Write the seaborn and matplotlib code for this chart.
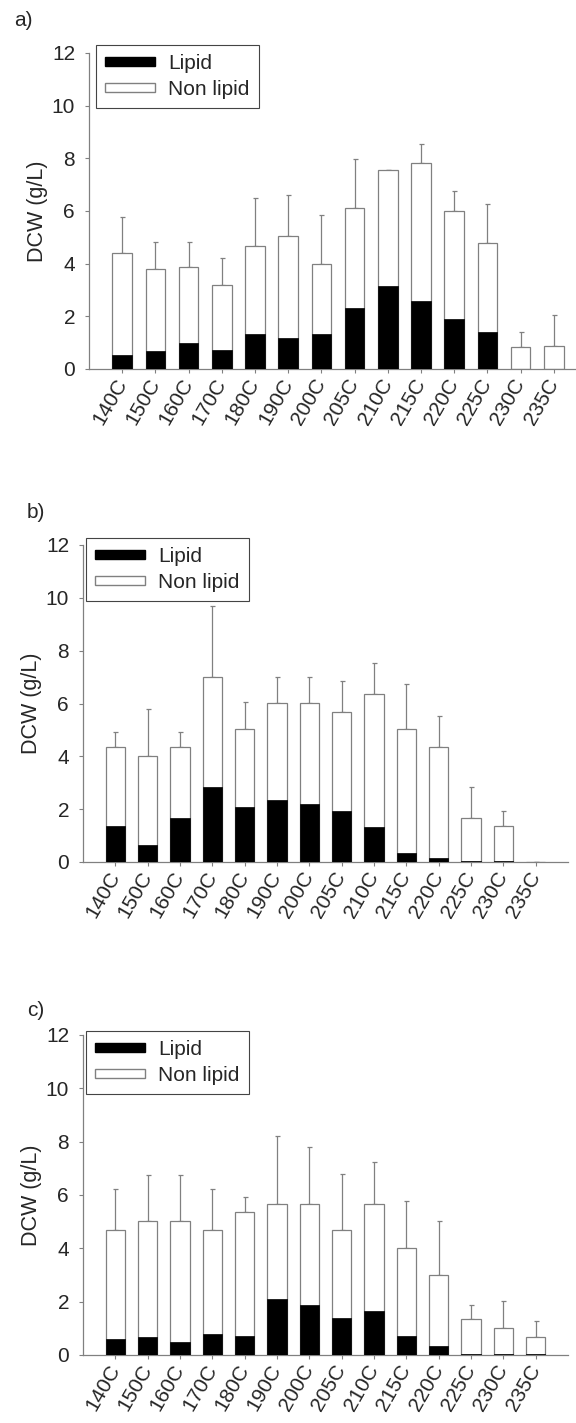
import numpy as np
import pandas as pd
import matplotlib
matplotlib.use("Agg")
import matplotlib.pyplot as plt
from matplotlib.patches import Patch
import seaborn as sns

# data (g/L)
temps = ["140C", "150C", "160C", "170C", "180C", "190C", "200C",
         "205C", "210C", "215C", "220C", "225C", "230C", "235C"]

a_total = [4.40, 3.80, 3.87, 3.18, 4.68, 5.04, 3.97, 6.13, 7.56, 7.82, 6.00, 4.78, 0.84, 0.86]
a_lipid = [0.54, 0.70, 0.97, 0.72, 1.34, 1.18, 1.32, 2.32, 3.14, 2.57, 1.91, 1.41, 0.0, 0.0]
a_err = [1.37, 1.02, 0.95, 1.02, 1.81, 1.58, 1.87, 1.86, 0.0, 0.74, 0.76, 1.47, 0.55, 1.19]

b_total = [4.36, 4.02, 4.36, 7.02, 5.04, 6.02, 6.02, 5.68, 6.35, 5.04, 4.36, 1.68, 1.35, 0.0]
b_lipid = [1.36, 0.64, 1.65, 2.83, 2.10, 2.34, 2.21, 1.92, 1.34, 0.35, 0.16, 0.03, 0.02, 0.0]
b_err = [0.56, 1.76, 0.56, 2.68, 1.00, 1.00, 1.00, 1.19, 1.18, 1.70, 1.15, 1.16, 0.58, 0.0]

c_total = [4.68, 5.04, 5.04, 4.68, 5.37, 5.68, 5.68, 4.68, 5.68, 4.02, 3.00, 1.35, 1.02, 0.68]
c_lipid = [0.59, 0.66, 0.49, 0.77, 0.72, 2.10, 1.86, 1.38, 1.64, 0.72, 0.34, 0.02, 0.02, 0.02]
c_err = [1.56, 1.71, 1.71, 1.56, 0.56, 2.55, 2.11, 2.11, 1.55, 1.75, 2.03, 0.54, 1.00, 0.58]

panels = [("a)", a_total, a_lipid, a_err),
          ("b)", b_total, b_lipid, b_err),
          ("c)", c_total, c_lipid, c_err)]

sns.set_style("ticks")
plt.rcParams["font.family"] = ["Liberation Sans", "DejaVu Sans"]
plt.rcParams["font.size"] = 15

W, H = 576, 1423
fig = plt.figure(figsize=(W / 100, H / 100), dpi=100)

# axes boxes in pixels: left, bottom(y of zero), width, height
boxes = [(89, 369, 498, 316), (83, 862, 485, 317), (83, 1355, 485, 320)]
legend_pos = [(96, 45), (86, 538), (86, 1031)]
label_pos = [(14, 20), (27, 513), (27, 1010)]

grey = "#808080"
for (tag, total, lipid, err), (x0, y0, w, h), (lx, ly), (tx, ty) in zip(panels, boxes, legend_pos, label_pos):
    ax = fig.add_axes([x0 / W, 1 - y0 / H, w / W, h / H])
    df = pd.DataFrame({"temp": temps, "total": total, "lipid": lipid, "err": err})

    sns.barplot(data=df, x="temp", y="total", order=temps, color="white",
                edgecolor=grey, linewidth=0.9, width=0.59, ax=ax, zorder=2)
    sns.barplot(data=df, x="temp", y="lipid", order=temps, color="black",
                edgecolor="black", linewidth=0.5, width=0.59, ax=ax, zorder=3)
    pos = np.arange(len(temps))
    ax.errorbar(pos, df["total"], yerr=[np.zeros(len(temps)), df["err"]],
                fmt="none", ecolor=grey, elinewidth=0.9, capsize=1.8,
                capthick=0.9, zorder=1)

    ax.set_xlim(-1, 14)
    ax.set_ylim(0, 12)
    ax.set_yticks([0, 2, 4, 6, 8, 10, 12])
    ax.set_xlabel("")
    ax.set_ylabel("DCW (g/L)", fontsize=15.5, labelpad=3)
    ax.set_xticks(pos)
    ax.set_xticklabels(temps, rotation=60, ha="right", va="center",
                       rotation_mode="anchor", fontsize=15)
    ax.tick_params(axis="y", length=3, width=0.8, color=grey, pad=7, labelsize=15)
    ax.tick_params(axis="x", length=3, width=0.8, color=grey, pad=5)
    sns.despine(ax=ax)
    for s in ("left", "bottom"):
        ax.spines[s].set_color(grey)
        ax.spines[s].set_linewidth(0.9)
    ax.patch.set_alpha(0)

    handles = [Patch(facecolor="black", edgecolor="black", label="Lipid"),
               Patch(facecolor="white", edgecolor=grey, label="Non lipid")]
    leg = ax.legend(handles=handles, loc="upper left",
                    bbox_to_anchor=(lx / W, 1 - ly / H),
                    bbox_transform=fig.transFigure, borderaxespad=0,
                    fontsize=15, handleheight=0.3, handlelength=2.4,
                    handletextpad=0.6, labelspacing=0.3, borderpad=0.45,
                    frameon=True, fancybox=False, framealpha=1)
    leg.get_frame().set_edgecolor("#444444")
    leg.get_frame().set_linewidth(0.8)
    leg.set_zorder(5)

    fig.text(tx / W, 1 - ty / H, tag, fontsize=15, va="center", ha="left")

fig.savefig("out.png", dpi=100, facecolor="white")
